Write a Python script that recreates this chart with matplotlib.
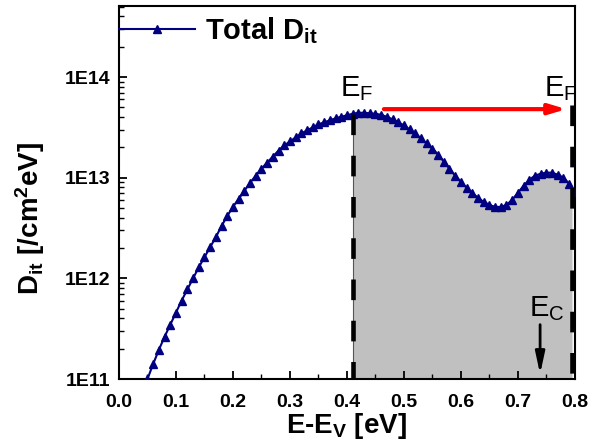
import numpy as np
import matplotlib.pyplot as plt
from matplotlib.ticker import MultipleLocator, LogLocator, NullFormatter, FixedLocator, FixedFormatter

plt.rcParams['font.family'] = ['Liberation Sans', 'DejaVu Sans']
plt.rcParams['mathtext.fontset'] = 'custom'
plt.rcParams['mathtext.rm'] = 'Liberation Sans'
plt.rcParams['mathtext.bf'] = 'Liberation Sans:bold'
plt.rcParams['mathtext.it'] = 'Liberation Sans:italic'

# energy (eV) and log10 of total Dit
energy = [0.04, 0.05, 0.06, 0.07, 0.08, 0.09, 0.10, 0.11, 0.12, 0.13, 0.14,
          0.15, 0.16, 0.17, 0.18, 0.19, 0.20, 0.21, 0.22, 0.23, 0.24, 0.25,
          0.26, 0.27, 0.28, 0.29, 0.30, 0.31, 0.32, 0.33, 0.34, 0.35, 0.36,
          0.37, 0.38, 0.39, 0.40, 0.41, 0.42, 0.43, 0.44, 0.45, 0.46, 0.47,
          0.48, 0.49, 0.50, 0.51, 0.52, 0.53, 0.54, 0.55, 0.56, 0.57, 0.58,
          0.59, 0.60, 0.61, 0.62, 0.63, 0.64, 0.65, 0.66, 0.67, 0.68, 0.69,
          0.70, 0.71, 0.72, 0.73, 0.74, 0.75, 0.76, 0.77, 0.78, 0.79, 0.80]
log_dit = [10.85, 11.00, 11.15, 11.29, 11.42, 11.54, 11.66, 11.78, 11.89, 12.00, 12.11,
           12.21, 12.31, 12.41, 12.52, 12.62, 12.71, 12.79, 12.87, 12.95, 13.02, 13.09,
           13.15, 13.21, 13.27, 13.32, 13.36, 13.40, 13.44, 13.47, 13.50, 13.53, 13.55,
           13.57, 13.59, 13.605, 13.62, 13.635, 13.645, 13.645, 13.64, 13.635, 13.625, 13.605,
           13.58, 13.55, 13.52, 13.48, 13.44, 13.39, 13.34, 13.29, 13.23, 13.16, 13.09,
           13.02, 12.96, 12.90, 12.85, 12.80, 12.76, 12.73, 12.71, 12.71, 12.73, 12.78,
           12.85, 12.92, 12.98, 13.02, 13.04, 13.05, 13.05, 13.03, 13.00, 12.94, 12.86]
dit = 10 ** np.array(log_dit)
energy = np.array(energy)

ef_left = 0.41
ef_right = 0.795
ec = 0.739
ytick_vals = [1e11, 1e12, 1e13, 1e14]
ytick_labels = ['1E11', '1E12', '1E13', '1E14']

fig = plt.figure(figsize=(5.89, 4.47), dpi=100)
ax = fig.add_axes([0.202, 0.152, 0.774, 0.835])

# shaded region between the two Fermi levels
mask = (energy >= ef_left) & (energy <= ef_right)
xs = np.concatenate([[ef_left], energy[mask], [ef_right]])
ys = np.interp(xs, energy, dit)
top_left = np.interp(ef_left, energy, dit)
ax.fill_between(xs, 1e10, ys, color='#c0c0c0', lw=0, zorder=1)
ax.plot([ef_left, ef_left], [1e10, top_left], color='#555555', lw=0.8, zorder=2)

ax.plot(energy, dit, color='#000080', lw=1.5, marker='^', markersize=6,
        label=r'Total D$_\mathbf{it}$', zorder=3)

# dashed Fermi-level lines, drawn top-down so the dash pattern starts at the top
ax.plot([ef_left, ef_left], [top_left, 1e10], color='black',
        lw=3.3, dashes=(4.5, 4.5), zorder=4)
ax.plot([ef_right, ef_right], [5.3e13, 1e10], color='black', lw=3.3, dashes=(4.5, 4.5), zorder=4)

ax.annotate('', xy=(0.79, 4.8e13), xytext=(0.46, 4.8e13),
            arrowprops=dict(arrowstyle='-|>,head_length=1.0,head_width=0.3', color='red', lw=3))
ax.annotate('', xy=(ec, 1.05e11), xytext=(ec, 3.7e11),
            arrowprops=dict(arrowstyle='-|>,head_length=1.3,head_width=0.28', color='black', lw=2))

ax.text(0.387, 6.4e13, r'$\mathrm{E_F}$', fontsize=21, ha='left', va='baseline')
ax.text(0.746, 6.4e13, r'$\mathrm{E_F}$', fontsize=21, ha='left', va='baseline')
ax.text(0.72, 4.2e11, r'$\mathrm{E_C}$', fontsize=21, ha='left', va='baseline')

ax.set_yscale('log')
ax.set_xlim(0, 0.8)
ax.set_ylim(1e11, 5.1e14)
ax.xaxis.set_major_locator(MultipleLocator(0.1))
ax.xaxis.set_minor_locator(MultipleLocator(0.05))
ax.yaxis.set_major_locator(FixedLocator(ytick_vals))
ax.yaxis.set_major_formatter(FixedFormatter(ytick_labels))
ax.yaxis.set_minor_locator(LogLocator(base=10, subs=np.arange(2, 10)))
ax.yaxis.set_minor_formatter(NullFormatter())
ax.tick_params(axis='both', which='both', direction='in', top=False, right=False)
ax.tick_params(which='major', length=6, width=1.3, labelsize=14)
ax.tick_params(axis='x', which='major', pad=11)
ax.tick_params(axis='y', which='major', pad=6)
ax.tick_params(which='minor', length=3.5, width=1.0)
for lab in ax.get_xticklabels() + ax.get_yticklabels():
    lab.set_fontweight('bold')
for s in ax.spines.values():
    s.set_linewidth(1.5)

ax.set_xlabel(r'E-E$_\mathbf{V}$ [eV]', fontsize=20, fontweight='bold', labelpad=0)
ax.set_ylabel(r'D$_\mathbf{it}$ [/cm$^\mathbf{2}$eV]', fontsize=20, fontweight='bold')
ax.yaxis.set_label_coords(-0.158, 0.43)

leg = ax.legend(loc='upper left', bbox_to_anchor=(0.0, 0.975), frameon=False,
                handlelength=2.6, handletextpad=0.35, borderaxespad=0, borderpad=0,
                prop={'size': 21, 'weight': 'bold'})

fig.savefig('out.png', dpi=100)
